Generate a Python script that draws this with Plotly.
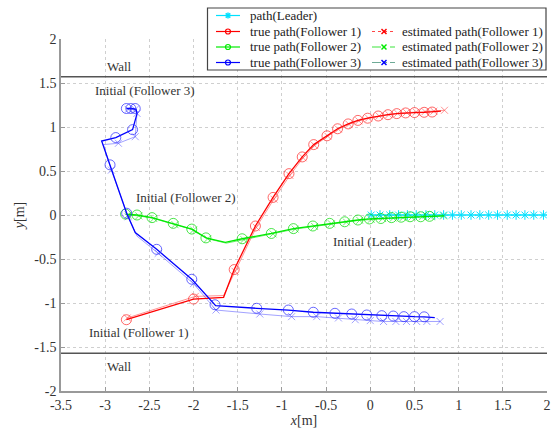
import plotly.graph_objects as go

# ---------------- data ----------------
# Leader path (cyan, asterisks)
leader_x = [0.01, 0.11, 0.22, 0.32, 0.42, 0.52, 0.63, 0.73, 0.83, 0.93,
            1.03, 1.14, 1.24, 1.34, 1.44, 1.55, 1.65, 1.75, 1.85, 1.96]
leader_y = [0.0, 0.0, 0.0, 0.0, 0.0, 0.0, 0.0, 0.0, 0.0, 0.0,
            0.0, 0.0, 0.0, 0.0, 0.0, 0.0, 0.0, 0.0, 0.0, 0.0]
leader_line_x = [0.0, 2.05]
leader_line_y = [0.0, 0.0]

# Follower 1 true path (red)
f1_x = [-2.76, -2.00, -1.66, -1.54, -1.30, -1.10, -0.92, -0.77, -0.64, -0.49, -0.37,
        -0.25, -0.14, -0.03, 0.09, 0.20, 0.30, 0.40, 0.50, 0.61, 0.70, 0.80]
f1_y = [-1.19, -0.955, -0.935, -0.62, -0.125, 0.20, 0.47, 0.66, 0.80, 0.90, 0.98,
        1.035, 1.075, 1.10, 1.125, 1.14, 1.152, 1.16, 1.164, 1.167, 1.17, 1.18]
f1_mx = [-2.76, -2.00, -1.54, -1.30, -1.10, -0.92, -0.77, -0.64, -0.49, -0.37,
         -0.25, -0.14, -0.03, 0.09, 0.20, 0.30, 0.40, 0.50, 0.61, 0.70]
f1_my = [-1.19, -0.955, -0.62, -0.125, 0.20, 0.47, 0.66, 0.80, 0.90, 0.98,
         1.035, 1.075, 1.10, 1.125, 1.14, 1.152, 1.16, 1.164, 1.167, 1.17]
# Follower 1 estimated path
e1_x = [-2.75, -1.98, -1.66, -1.53, -1.29, -1.09, -0.91, -0.76, -0.63, -0.48, -0.36,
        -0.24, -0.13, -0.02, 0.10, 0.21, 0.31, 0.41, 0.52, 0.62, 0.72, 0.84]
e1_y = [-1.17, -0.925, -0.915, -0.64, -0.14, 0.18, 0.45, 0.65, 0.79, 0.895, 0.975,
        1.03, 1.07, 1.10, 1.125, 1.14, 1.155, 1.165, 1.17, 1.175, 1.18, 1.19]
e1_mx = [-2.75, -1.98, -1.53, -1.29, -1.09, -0.91, -0.76, -0.63, -0.48, -0.36,
         -0.24, -0.13, -0.02, 0.10, 0.21, 0.31, 0.41, 0.52, 0.62, 0.72, 0.84]
e1_my = [-1.17, -0.925, -0.64, -0.14, 0.18, 0.45, 0.65, 0.79, 0.895, 0.975,
         1.03, 1.07, 1.10, 1.125, 1.14, 1.155, 1.165, 1.17, 1.175, 1.18, 1.19]

# Follower 2 true path (green)
f2_x = [-2.77, -2.64, -2.47, -2.23, -2.02, -1.86, -1.64, -1.45, -1.12, -0.87, -0.65,
        -0.46, -0.29, -0.14, -0.01, 0.12, 0.24, 0.35, 0.45, 0.57, 0.67, 0.83]
f2_y = [0.01, 0.00, -0.03, -0.095, -0.16, -0.26, -0.31, -0.27, -0.21, -0.155, -0.125,
        -0.095, -0.077, -0.057, -0.045, -0.04, -0.03, -0.025, -0.02, -0.02, -0.015, -0.01]
f2_mx = [-2.77, -2.64, -2.47, -2.23, -2.02, -1.86, -1.45, -1.12, -0.87, -0.65,
         -0.46, -0.29, -0.14, -0.01, 0.12, 0.24, 0.35, 0.45, 0.57, 0.67]
f2_my = [0.01, 0.00, -0.03, -0.095, -0.16, -0.26, -0.27, -0.21, -0.155, -0.125,
         -0.095, -0.077, -0.057, -0.045, -0.04, -0.03, -0.025, -0.02, -0.02, -0.015]
# Follower 2 estimated path
e2_x = [-2.74, -2.62, -2.45, -2.21, -2.00, -1.84, -1.63, -1.43, -1.10, -0.85, -0.63,
        -0.44, -0.27, -0.12, 0.01, 0.14, 0.26, 0.37, 0.47, 0.59, 0.69, 0.83]
e2_y = [0.00, -0.01, -0.04, -0.11, -0.17, -0.27, -0.32, -0.28, -0.215, -0.16, -0.13,
        -0.10, -0.08, -0.06, -0.05, -0.04, -0.035, -0.03, -0.025, -0.02, -0.02, -0.01]
e2_mx = [-2.74, -2.62, -2.45, -2.21, -2.00, -1.84, -1.43, -1.10, -0.85, -0.63,
         -0.44, -0.27, -0.12, 0.01, 0.14, 0.26, 0.37, 0.47, 0.59, 0.69, 0.83]
e2_my = [0.00, -0.01, -0.04, -0.11, -0.17, -0.27, -0.28, -0.215, -0.16, -0.13,
         -0.10, -0.08, -0.06, -0.05, -0.04, -0.035, -0.03, -0.025, -0.02, -0.02, -0.01]

# Follower 3 true path (blue)
f3_x = [-2.76, -2.70, -2.65, -2.64, -2.69, -2.88, -3.04, -2.945, -2.757, -2.66, -2.417,
        -2.02, -1.75, -1.285, -0.927, -0.645, -0.40, -0.21, -0.04, 0.13, 0.26, 0.38,
        0.50, 0.61, 0.73]
f3_y = [1.21, 1.21, 1.20, 1.15, 0.97, 0.88, 0.84, 0.57, 0.02, -0.20, -0.39,
        -0.73, -1.03, -1.06, -1.08, -1.105, -1.117, -1.125, -1.136, -1.144, -1.148, -1.155,
        -1.155, -1.157, -1.167]
f3_mx = [-2.76, -2.71, -2.66, -2.69, -2.88, -2.945, -2.757, -2.417, -2.02, -1.757,
         -1.285, -0.927, -0.645, -0.40, -0.21, -0.04, 0.13, 0.26, 0.38, 0.50, 0.61]
f3_my = [1.21, 1.21, 1.21, 0.97, 0.88, 0.57, 0.02, -0.39, -0.73, -1.02,
         -1.06, -1.08, -1.105, -1.117, -1.125, -1.136, -1.144, -1.148, -1.155, -1.155, -1.157]
# Follower 3 estimated path
e3_x = [-2.74, -2.66, -2.64, -2.66, -2.85, -3.02, -2.93, -2.74, -2.64, -2.40, -2.00,
        -1.746, -1.25, -0.89, -0.606, -0.36, -0.17, 0.00, 0.15, 0.29, 0.41, 0.525,
        0.64, 0.79]
e3_y = [1.20, 1.20, 1.155, 0.89, 0.815, 0.80, 0.51, -0.02, -0.24, -0.435, -0.78,
        -1.08, -1.125, -1.155, -1.155, -1.17, -1.19, -1.20, -1.21, -1.21, -1.21, -1.21,
        -1.21, -1.21]
e3_mx = [-2.74, -2.66, -2.64, -2.66, -2.85, -2.93, -2.74, -2.40, -2.00, -1.746, -1.25,
         -0.89, -0.606, -0.36, -0.17, 0.00, 0.15, 0.29, 0.41, 0.525, 0.64, 0.79]
e3_my = [1.20, 1.20, 1.155, 0.89, 0.815, 0.51, -0.02, -0.435, -0.78, -1.08, -1.125,
         -1.155, -1.155, -1.17, -1.19, -1.20, -1.21, -1.21, -1.21, -1.21, -1.21, -1.21]

wall_y = [1.57, -1.57]

x_ticks = [-3.5, -3, -2.5, -2, -1.5, -1, -0.5, 0, 0.5, 1, 1.5, 2]
x_tick_text = ["-3.5", "-3", "-2.5", "-2", "-1.5", "-1", "-0.5", "0", "0.5", "1", "1.5", "2"]
y_ticks = [-2, -1.5, -1, -0.5, 0, 0.5, 1, 1.5, 2]
y_tick_text = ["-2", "-1.5", "-1", "-0.5", "0", "0.5", "1", "1.5", "2"]

legend_names = ["path(Leader)", "true path(Follower 1)", "true path(Follower 2)",
                "true path(Follower 3)", "estimated path(Follower 1)",
                "estimated path(Follower 2)", "estimated path(Follower 3)"]

# ---------------- styling ----------------
FONT = "Liberation Serif"
TXT = "#333333"
RED = "rgb(255,0,0)"
GREEN = "rgb(0,235,0)"
BLUE = "rgb(0,0,255)"
CYAN = "rgb(0,225,255)"
RED_L = "rgba(255,60,60,0.55)"
GREEN_L = "rgba(0,220,0,0.55)"
BLUE_L = "rgba(70,70,255,0.5)"

W, H = 554, 436
ML, MR, MT, MB = 61, 7, 39, 45
PW, PH = W - ML - MR, H - MT - MB

fig = go.Figure()


def add_line(x, y, color, width, dash="solid", name=None):
    fig.add_trace(go.Scatter(x=x, y=y, mode="lines", line=dict(color=color, width=width, dash=dash),
                             showlegend=False, name=name, hoverinfo="skip"))


def add_markers(x, y, color, symbol, size, width=1.0, name=None):
    fig.add_trace(go.Scatter(x=x, y=y, mode="markers",
                             marker=dict(symbol=symbol, size=size, color=color,
                                         line=dict(color=color, width=width)),
                             showlegend=False, name=name, hoverinfo="skip"))


# leader
add_line(leader_line_x, leader_line_y, CYAN, 1.2, name=legend_names[0])
add_markers(leader_x, leader_y, CYAN, "asterisk-open", 8, 1.0, name=legend_names[0])

# estimated paths (drawn beneath)
add_line(e1_x, e1_y, RED_L, 1.0, name=legend_names[4])
add_markers(e1_mx, e1_my, RED_L, "x-thin-open", 7, 1.0, name=legend_names[4])
add_line(e2_x, e2_y, GREEN_L, 1.0, name=legend_names[5])
add_markers(e2_mx, e2_my, GREEN_L, "x-thin-open", 7, 1.0, name=legend_names[5])
add_line(e3_x, e3_y, BLUE_L, 1.0, name=legend_names[6])
add_markers(e3_mx, e3_my, BLUE_L, "x-thin-open", 7, 1.0, name=legend_names[6])

# true paths
add_line(f1_x, f1_y, RED, 1.3, name=legend_names[1])
add_markers(f1_mx, f1_my, "rgba(255,40,40,0.7)", "circle-open", 10, 1.0, name=legend_names[1])
add_line(f2_x, f2_y, GREEN, 1.3, name=legend_names[2])
add_markers(f2_mx, f2_my, "rgba(0,220,0,0.7)", "circle-open", 10, 1.0, name=legend_names[2])
add_line(f3_x, f3_y, BLUE, 1.3, name=legend_names[3])
add_markers(f3_mx, f3_my, "rgba(40,40,255,0.7)", "circle-open", 10, 1.0, name=legend_names[3])

# walls
for wy in wall_y:
    fig.add_shape(type="line", xref="paper", yref="y", x0=0, x1=1, y0=wy, y1=wy,
                  line=dict(color="#555555", width=1.5))

# text annotations on the plot
notes = [("Wall", -2.84, 1.685), ("Wall", -2.84, -1.727),
         ("Initial (Follower 3)", -2.55, 1.42), ("Initial (Follower 2)", -2.085, 0.197),
         ("Initial (Follower 1)", -2.617, -1.34), ("Initial (Leader)", 0.027, -0.305)]
for t, ax, ay in notes:
    fig.add_annotation(x=ax, y=ay, xref="x", yref="y", text=t, showarrow=False,
                       font=dict(family=FONT, size=13, color=TXT))


# ---------------- hand-built legend (pixel layout -> paper coords) ----------------
def px(xp):
    return (xp - ML) / PW


def py(yp):
    return (MT + PH - yp) / PH


fig.add_shape(type="rect", xref="paper", yref="paper", x0=px(207.5), x1=px(546),
              y0=py(70), y1=py(8), fillcolor="white", line=dict(color="#444444", width=1.2),
              layer="above")

rows = [15.5, 31.5, 47.0, 62.5]
col1 = (216, 240, 228, 248)
col2 = (372, 395, 384, 400)
entries = [
    (col1, 0, CYAN, "solid", "star", CYAN, legend_names[0]),
    (col1, 1, RED, "solid", "circle", RED, legend_names[1]),
    (col1, 2, GREEN, "solid", "circle", GREEN, legend_names[2]),
    (col1, 3, BLUE, "solid", "circle", BLUE, legend_names[3]),
    (col2, 1, "rgb(255,70,70)", "dot", "x", RED, legend_names[4]),
    (col2, 2, "rgb(60,230,60)", "dash", "x", GREEN, legend_names[5]),
    (col2, 3, "rgb(110,170,150)", "dashdot", "x", BLUE, legend_names[6]),
]


def pix_shape(kind, cx, cy, x0, x1, y0, y1, color, width):
    d = dict(type=kind, xref="paper", yref="paper", xsizemode="pixel", ysizemode="pixel",
             xanchor=cx, yanchor=cy, x0=x0, x1=x1, y0=y0, y1=y1,
             line=dict(color=color, width=width), layer="above")
    fig.add_shape(**d)


for col, r, lcol, dash, sym, mcol, label in entries:
    yy = py(rows[r])
    fig.add_shape(type="line", xref="paper", yref="paper", x0=px(col[0]), x1=px(col[1]),
                  y0=yy, y1=yy, line=dict(color=lcol, width=1.2, dash=dash), layer="above")
    cx = px(col[2])
    if sym == "circle":
        pix_shape("circle", cx, yy, -2.5, 2.5, -2.5, 2.5, mcol, 1.2)
    elif sym == "x":
        pix_shape("line", cx, yy, -2.5, 2.5, -2.5, 2.5, mcol, 1.5)
        pix_shape("line", cx, yy, -2.5, 2.5, 2.5, -2.5, mcol, 1.5)
    else:
        pix_shape("line", cx, yy, -3, 3, 0, 0, mcol, 1.5)
        pix_shape("line", cx, yy, 0, 0, -3, 3, mcol, 1.5)
        pix_shape("line", cx, yy, -2.2, 2.2, -2.2, 2.2, mcol, 1.5)
        pix_shape("line", cx, yy, -2.2, 2.2, 2.2, -2.2, mcol, 1.5)
    fig.add_annotation(x=px(col[3]), y=yy, xref="paper", yref="paper", text=label,
                       showarrow=False, xanchor="left", yanchor="middle",
                       font=dict(family=FONT, size=13, color="#222222"))

# ---------------- axes & layout ----------------
axis_common = dict(showline=True, linecolor="#999999", linewidth=1.5, mirror=False,
                   ticks="inside", ticklen=4, tickwidth=1, tickcolor="#999999",
                   showgrid=True, gridcolor="#cfcfcf", gridwidth=1, griddash="dot",
                   zeroline=False, tickfont=dict(family=FONT, size=14, color=TXT))

fig.update_xaxes(range=[-3.5, 2], tickvals=x_ticks, ticktext=x_tick_text,
                 title=dict(text="<i>x</i>[m]", font=dict(family=FONT, size=14, color=TXT),
                            standoff=2),
                 **axis_common)
fig.update_yaxes(range=[-2, 2], tickvals=y_ticks, ticktext=y_tick_text,
                 title=dict(text="<i>y</i>[m]", font=dict(family=FONT, size=14, color=TXT),
                            standoff=6),
                 **axis_common)

fig.update_layout(width=W, height=H, margin=dict(l=ML, r=MR, t=MT, b=MB, autoexpand=False),
                  paper_bgcolor="white", plot_bgcolor="white", showlegend=False,
                  font=dict(family=FONT, size=13, color=TXT))

fig.write_html("out.html")
